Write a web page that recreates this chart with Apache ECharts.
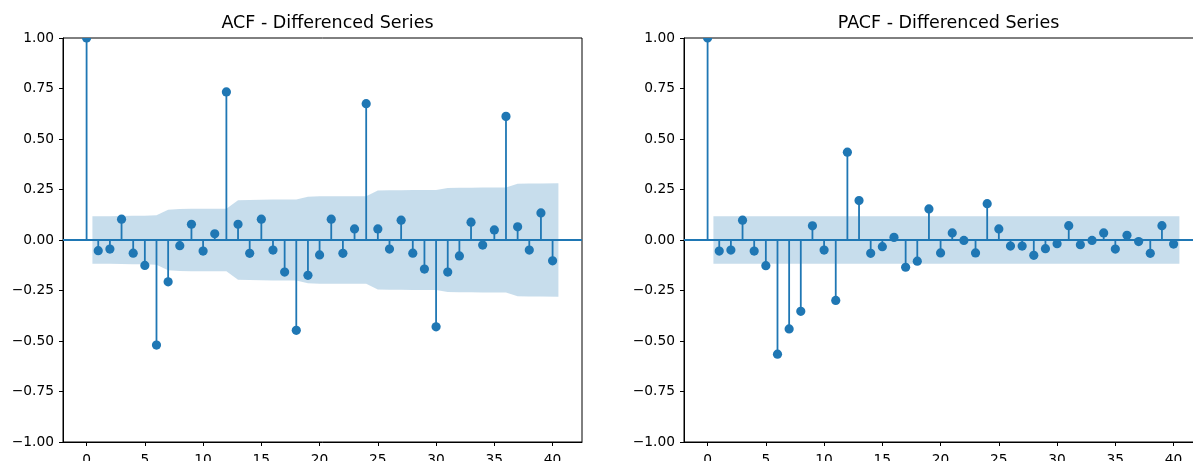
<!DOCTYPE html>
<html><head><meta charset="utf-8">
<script src="https://cdn.jsdelivr.net/npm/echarts@6/dist/echarts.min.js"></script>
<style>html,body{margin:0;padding:0;background:#fff}#c{width:1193px;height:461px}</style>
</head><body><div id="c"></div>
<script>
// ---- data ----
const lags = Array.from({length: 41}, (_, i) => i); // 0..40
const xTickValues = [0, 5, 10, 15, 20, 25, 30, 35, 40];
const yTickValues = [-1, -0.75, -0.5, -0.25, 0, 0.25, 0.5, 0.75, 1];

const acfValues = [1.0, -0.053, -0.045, 0.103, -0.065, -0.126, -0.52, -0.207, -0.028, 0.078,
  -0.055, 0.031, 0.733, 0.078, -0.066, 0.103, -0.05, -0.159, -0.447, -0.175,
  -0.074, 0.103, -0.066, 0.055, 0.675, 0.055, -0.045, 0.098, -0.065, -0.144,
  -0.43, -0.159, -0.079, 0.088, -0.025, 0.05, 0.612, 0.065, -0.05, 0.134, -0.103];
// confidence half-width for lags 1..40
const acfBand = [0.118, 0.118, 0.119, 0.120, 0.120, 0.122, 0.150, 0.154, 0.155, 0.155,
  0.155, 0.155, 0.197, 0.198, 0.199, 0.200, 0.200, 0.201, 0.214, 0.216,
  0.216, 0.217, 0.217, 0.217, 0.245, 0.246, 0.246, 0.247, 0.247, 0.248,
  0.257, 0.259, 0.259, 0.260, 0.260, 0.260, 0.279, 0.280, 0.280, 0.281];

const pacfValues = [1.0, -0.055, -0.05, 0.098, -0.055, -0.127, -0.565, -0.44, -0.353, 0.07,
  -0.05, -0.299, 0.435, 0.195, -0.066, -0.033, 0.013, -0.135, -0.105, 0.154,
  -0.064, 0.035, -0.002, -0.064, 0.18, 0.055, -0.03, -0.03, -0.076, -0.043,
  -0.018, 0.071, -0.023, -0.002, 0.035, -0.045, 0.023, -0.008, -0.066, 0.071, -0.02];
const pacfBand = Array(40).fill(0.118);

const titles = ['ACF - Differenced Series', 'PACF - Differenced Series'];

// ---- rendering ----
const BLUE = '#1f77b4';
const FONT = 'DejaVu Sans';
const chart = echarts.init(document.getElementById('c'), null, {renderer: 'canvas'});

function stemRender(params, api) {
  const x = api.value(0), v = api.value(1);
  const p0 = api.coord([x, 0]), p1 = api.coord([x, v]);
  return {type: 'group', children: [
    {type: 'line', shape: {x1: p0[0], y1: p0[1], x2: p1[0], y2: p1[1]}, style: {stroke: BLUE, lineWidth: 1.8}},
    {type: 'circle', shape: {cx: p1[0], cy: p1[1], r: 4.6}, style: {fill: BLUE}}
  ]};
}
function bandRender(band) {
  return function (params, api) {
    const n = band.length;
    const xs = band.map((_, i) => i === 0 ? 0.5 : (i === n - 1 ? n + 0.5 : i + 1));
    const upper = xs.map((x, i) => api.coord([x, band[i]]));
    const lower = xs.map((x, i) => api.coord([x, -band[i]])).reverse();
    return {type: 'polygon', shape: {points: upper.concat(lower)}, style: {fill: 'rgba(31,119,180,0.25)'}};
  };
}

const gridLefts = [63, 684];
const grids = gridLefts.map(l => ({left: l, top: 38, width: 519, height: 404, show: true,
  borderColor: '#000', borderWidth: 1, backgroundColor: 'transparent', outerBoundsMode: 'none', containLabel: false}));
const xAxes = [0, 1].map(i => ({
  type: 'value', gridIndex: i, min: -2.025, max: 42.525,
  splitLine: {show: false},
  axisLine: {show: true, onZero: false, lineStyle: {color: '#000', width: 1}},
  axisTick: {show: true, length: 4, customValues: xTickValues, lineStyle: {color: '#000'}},
  axisLabel: {customValues: xTickValues, color: '#000', fontSize: 13.8, fontFamily: FONT, margin: 11}
}));
const yAxes = [0, 1].map(i => ({
  type: 'value', gridIndex: i, min: -1, max: 1, interval: 0.25,
  splitLine: {show: false},
  axisLine: {show: true, onZero: false, lineStyle: {color: '#000', width: 1}},
  axisTick: {show: true, length: 4, lineStyle: {color: '#000'}},
  axisLabel: {color: '#000', fontSize: 13.8, fontFamily: FONT, margin: 9,
    formatter: v => (v < 0 ? '\u2212' : '') + Math.abs(v).toFixed(2)}
}));

function seriesFor(i, values, band) {
  return [
    {type: 'custom', xAxisIndex: i, yAxisIndex: i, renderItem: bandRender(band), data: [[0.5, 0]], z: 1, silent: true, clip: true},
    {type: 'custom', xAxisIndex: i, yAxisIndex: i, renderItem: stemRender, clip: true, z: 3, silent: true,
      data: lags.map((l, k) => [l, values[k]]),
      markLine: {silent: true, symbol: ['none', 'none'], label: {show: false}, animation: false,
        lineStyle: {color: BLUE, width: 1.8, type: 'solid'}, data: [{yAxis: 0}]}}
  ];
}

chart.setOption({
  animation: false,
  backgroundColor: '#fff',
  title: titles.map((t, i) => ({text: t, left: gridLefts[i] + 259.5, top: 9, textAlign: 'center',
    textStyle: {fontFamily: FONT, fontSize: 17.5, fontWeight: 'normal', color: '#000'}})),
  grid: grids,
  xAxis: xAxes,
  yAxis: yAxes,
  series: [...seriesFor(0, acfValues, acfBand), ...seriesFor(1, pacfValues, pacfBand)]
});
</script></body></html>
